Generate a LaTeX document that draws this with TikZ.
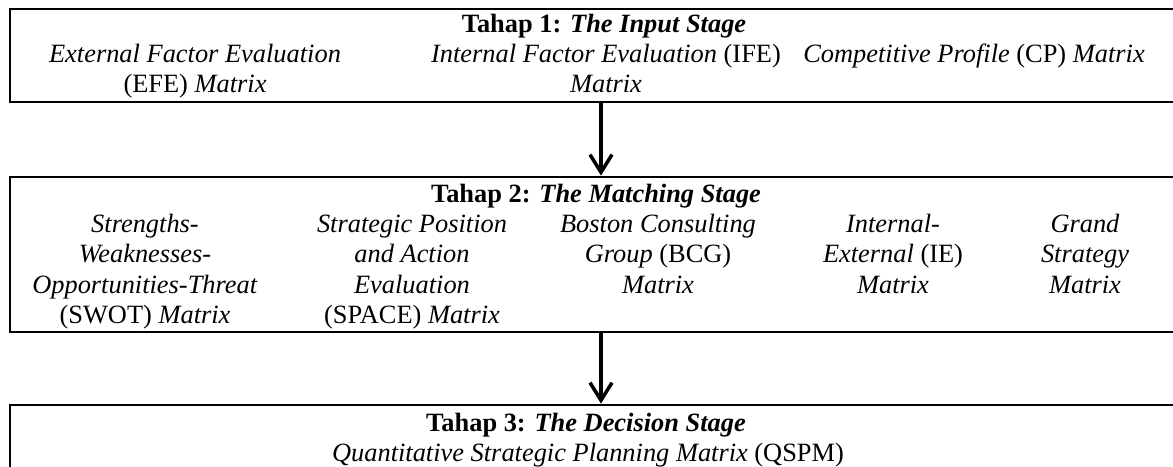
\documentclass[tikz,border=0pt]{standalone}
\usepackage{fontspec}
\setmainfont{Liberation Serif}
\usetikzlibrary{arrows.meta,fit}
\begin{document}
\begin{tikzpicture}[x=0.454545pt,y=-0.454545pt,
  boxframe/.style={draw=black,line width=1.3pt,inner sep=0pt,rectangle},
  txt/.style={anchor=north,inner sep=0pt,align=center,font=\fontsize{12}{13.8}\selectfont},
  arr/.style={line width=1.6pt,-{Straight Barb[length=8pt,width=10pt,line width=1.6pt]}}]
\useasboundingbox (0,0) rectangle (1173,466);
\clip (0,0) rectangle (1173,466);
% boxes
\node[boxframe,fit={(10,9) (1192,102)}] (b1) {};
\node[boxframe,fit={(10,177) (1192,332)}] (b2) {};
\node[boxframe,fit={(10,405) (1192,500)}] (b3) {};
% stage 1
\node[txt] (t1) at (604,10.75) {\strut\textbf{Tahap 1: \textit{The Input Stage}}};
\node[txt] (efe) at (195,40.75) {\strut\textit{External Factor Evaluation}\\(EFE) \textit{Matrix}};
\node[txt] (ife) at (606,40.75) {\strut\textit{Internal Factor Evaluation} (IFE)\\\textit{Matrix}};
\node[txt] (cp) at (974,40.75) {\strut\textit{Competitive Profile} (CP) \textit{Matrix}};
% stage 2
\node[txt] (t2) at (596,180.75) {\strut\textbf{Tahap 2: \textit{The Matching Stage}}};
\node[txt] (swot) at (145,210.75) {\strut\textit{Strengths-}\\\textit{Weaknesses-}\\\textit{Opportunities-Threat}\\(SWOT) \textit{Matrix}};
\node[txt] (space) at (412,210.75) {\strut\textit{Strategic Position}\\\textit{and Action}\\\textit{Evaluation}\\(SPACE) \textit{Matrix}};
\node[txt] (bcg) at (658,210.75) {\strut\textit{Boston Consulting}\\\textit{Group} (BCG)\\\textit{Matrix}};
\node[txt] (ie) at (893,210.75) {\strut\textit{Internal-}\\\textit{External} (IE)\\\textit{Matrix}};
\node[txt] (gs) at (1085,210.75) {\strut\textit{Grand}\\\textit{Strategy}\\\textit{Matrix}};
% stage 3
\node[txt] (t3) at (586,409.75) {\strut\textbf{Tahap 3: \textit{The Decision Stage}}};
\node[txt] (qspm) at (588,439.75) {\strut\textit{Quantitative Strategic Planning Matrix} (QSPM)};
% arrows
\draw[arr] (b1.south) -- (b2.north);
\draw[arr] (b2.south) -- (b3.north);
\end{tikzpicture}
\end{document}
